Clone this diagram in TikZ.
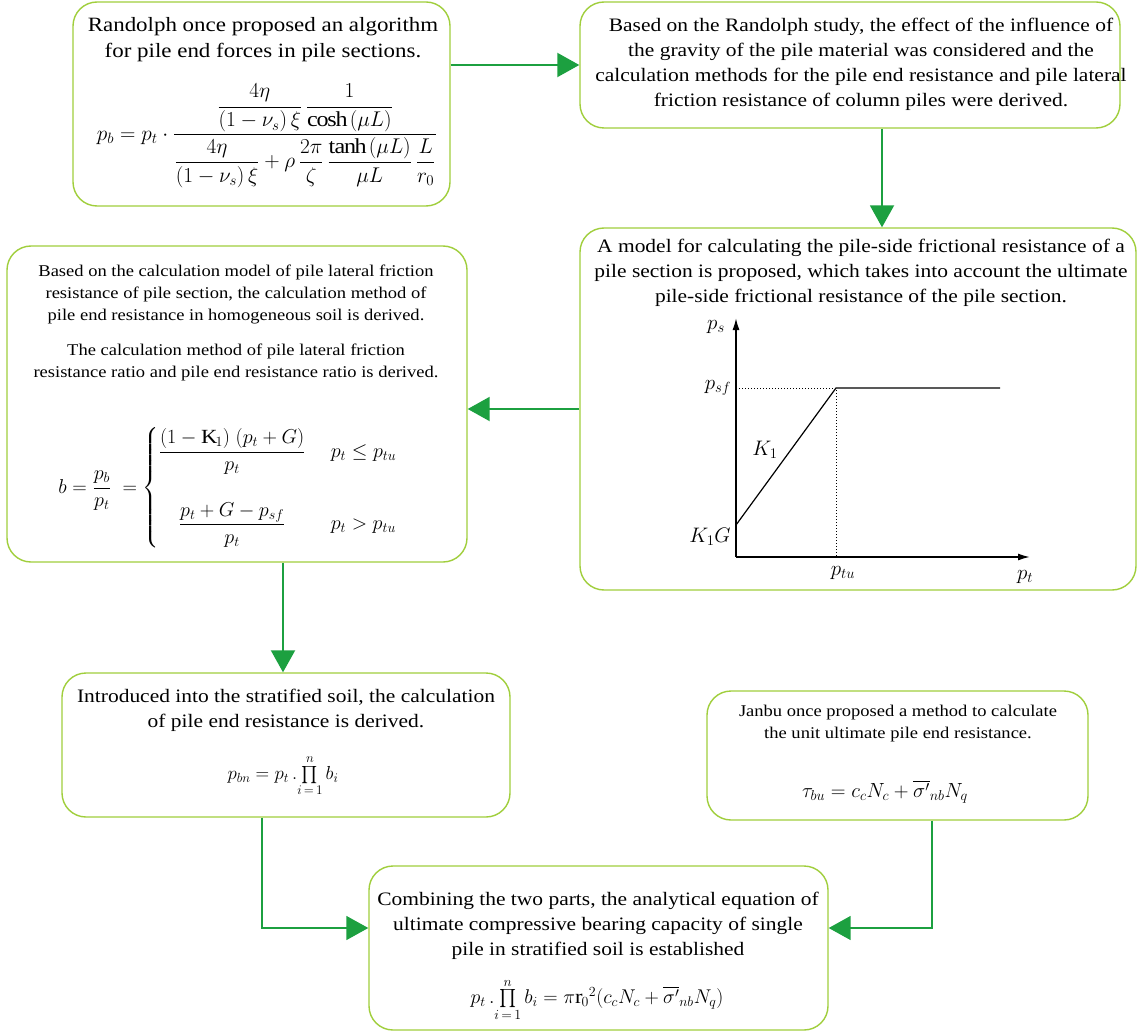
\RequirePackage{fix-cm}
\documentclass[tikz,border=0pt]{standalone}
\usepackage{graphicx}
\usepackage{amsmath}
\usepackage{fontspec}
\setmainfont{Liberation Serif}[FakeStretch=1.13]
\usetikzlibrary{arrows.meta}
\definecolor{boxgreen}{RGB}{160,206,60}
\definecolor{arrgreen}{RGB}{28,160,64}
\begin{document}
\begin{tikzpicture}[x=1pt,y=-1pt,
  box/.style={draw=boxgreen, line width=1.4pt, rounded corners=24pt, inner sep=0pt},
  txt/.style={align=center, font=\fontsize{19}{25}\selectfont, inner sep=0pt},
  stxt/.style={align=center, font=\fontsize{16.4}{22}\selectfont, inner sep=0pt},
  mth/.style={inner sep=0pt, font=\fontsize{19}{23}\selectfont},
  conn/.style={draw=arrgreen, line width=2pt, -{Triangle[length=22pt,width=24pt]}},
  thin conn/.style={draw=arrgreen, line width=1.5pt, -{Triangle[length=22pt,width=24pt]}},
  axis/.style={line width=1.6pt, -{Latex[length=12pt,width=7pt]}},
  lbl/.style={inner sep=0pt, font=\fontsize{21}{23}\selectfont}]
\useasboundingbox (0,0) rectangle (1137,1032);

% boxes
\node[box, minimum width=377pt, minimum height=204pt] (A) at (261.5,104) {};
\node[box, minimum width=540pt, minimum height=126pt] (B) at (850,65) {};
\node[box, minimum width=556pt, minimum height=362pt] (C) at (858,409) {};
\node[box, minimum width=460pt, minimum height=316pt] (D) at (237,404) {};
\node[box, minimum width=448pt, minimum height=144pt] (E) at (286,745) {};
\node[box, minimum width=381pt, minimum height=129pt] (F) at (897.5,755.5) {};
\node[box, minimum width=459pt, minimum height=164pt] (G) at (598.5,948) {};

% box A
\node[txt, font=\fontsize{20.3}{26}\selectfont] (At) at (263,40) {Randolph once proposed an algorithm\\for pile end forces in pile sections.};
\node[mth] (Am) at (267,136) {\resizebox{340pt}{!}{$\displaystyle p_b = p_t\cdot\frac{\dfrac{4\eta}{(1-\nu_s)\,\xi}\,\dfrac{1}{\cosh\,(\mu L)}}{\dfrac{4\eta}{(1-\nu_s)\,\xi}+\rho\,\dfrac{2\pi}{\zeta}\,\dfrac{\tanh\,(\mu L)}{\mu L}\,\dfrac{L}{r_0}}$}};

% box B
\node[txt] (Bt) at (861,64) {Based on the Randolph study, the effect of the influence of\\the gravity of the pile material was considered and the\\calculation methods for the pile end resistance and pile lateral\\friction resistance of column piles were derived.};

% box C
\node[txt] (Ct) at (861,273) {A model for calculating the pile-side frictional resistance of a\\pile section is proposed, which takes into account the ultimate\\pile-side frictional resistance of the pile section.};
\coordinate (O) at (736,557);
\draw[axis] (O) -- (736,318);
\draw[axis] (O) -- (1030,557);
\draw[line width=1.2pt] (736,525) -- (836,388) -- (1000,388);
\draw[dotted, line width=1pt] (736,388) -- (836,388) -- (836,557);
\node[lbl] (ps) at (716,327) {$p_s$};
\node[lbl] (psf) at (718,388) {$p_{sf}$};
\node[lbl] (k1) at (765,450) {$K_1$};
\node[lbl] (k1g) at (710,537) {$K_1G$};
\node[lbl] (ptu) at (843,573) {$p_{tu}$};
\node[lbl] (pt) at (1025,577) {$p_t$};

% box D
\node[stxt] (Dt1) at (236,294) {Based on the calculation model of pile lateral friction\\resistance of pile section, the calculation method of\\pile end resistance in homogeneous soil is derived.};
\node[stxt] (Dt2) at (236,362) {The calculation method of pile lateral friction\\resistance ratio and pile end resistance ratio is derived.};
\node[mth] (Dm) at (228,488) {\resizebox{339pt}{!}{$\displaystyle b=\frac{p_b}{p_t}\ =\left\{\begin{array}{@{}c@{\hspace{24pt}}l@{}}\dfrac{(1-\mathrm{K}_1)\;(p_t+G)}{p_t} & p_t\le p_{tu}\\[36pt] \dfrac{p_t+G-p_{sf}}{p_t} & p_t> p_{tu}\end{array}\right.$}};

% box E
\node[txt] (Et) at (286,710) {Introduced into the stratified soil, the calculation\\of pile end resistance is derived.};
\node[mth] (Em) at (283,776) {\resizebox{111pt}{!}{$p_{bn}=p_t\,.\!\prod\limits_{i\,=\,1}^{n} b_i$}};

% box F
\node[stxt] (Ft) at (898,724) {Janbu once proposed a method to calculate\\the unit ultimate pile end resistance.};
\node[mth] (Fm) at (885,792) {\resizebox{166pt}{!}{$\tau_{bu}=c_cN_c+\overline{\sigma'}_{nb}N_q$}};

% box G
\node[txt] (Gt) at (598,926) {Combining the two parts, the analytical equation of\\ultimate compressive bearing capacity of single\\pile in stratified soil is established};
\node[mth] (Gm) at (597,1000) {\resizebox{253pt}{!}{$p_t\,.\!\prod\limits_{i\,=\,1}^{n} b_i=\pi\mathrm{r}_0{}^2(c_cN_c+\overline{\sigma'}_{nb}N_q)$}};

% connectors
\draw[conn] (B.west -| A.east) -- (B.west);
\coordinate (bc) at (882,0);
\draw[conn] (bc |- B.south) -- (bc |- C.north);
\draw[conn] (C.west) -- (C.west -| D.east);
\coordinate (de) at (283,0);
\draw[conn] (de |- D.south) -- (de |- E.north);
\coordinate (eg) at (262,928);
\coordinate (fg) at (932,928);
\draw[thin conn] (eg |- E.south) -- (eg) -- (eg -| G.west);
\draw[thin conn] (fg |- F.south) -- (fg) -- (fg -| G.east);
\end{tikzpicture}
\end{document}
